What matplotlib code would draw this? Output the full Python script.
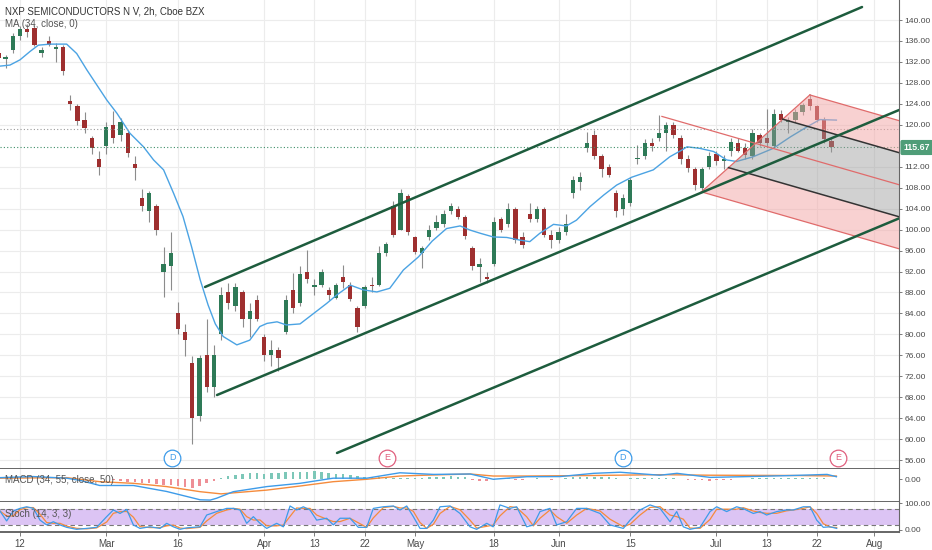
import numpy as np
import pandas as pd
import matplotlib
matplotlib.use('Agg')
import matplotlib.pyplot as plt
from matplotlib.patches import Polygon
import matplotlib.transforms as mtransforms

plt.rcParams['font.family'] = ['Liberation Sans', 'DejaVu Sans']

# trading calendar (Feb 10 2020 = day 0)
holidays = ['2020-02-17', '2020-04-10', '2020-05-25', '2020-07-03']
days = pd.bdate_range('2020-02-07', '2020-08-07')
days = days[~days.isin(pd.to_datetime(holidays))]
day_pos = {d.strftime('%Y-%m-%d'): i - 1 for i, d in enumerate(days)}

tick_dates = ['2020-02-12', '2020-03-02', '2020-03-16', '2020-04-01', '2020-04-13',
              '2020-04-22', '2020-05-01', '2020-05-18', '2020-06-01', '2020-06-15',
              '2020-07-01', '2020-07-13', '2020-07-22', '2020-08-03']
tick_labels = ['12', 'Mar', '16', 'Apr', '13', '22', 'May', '18', 'Jun', '15',
               'Jul', '13', '22', 'Aug']

# daily OHLC (day -1 .. 115)
open_ = [133.8, 132.6, 134.2, 137.0, 138.2, 138.5, 133.8, 136.0, 134.5, 134.8,
         124.5, 123.5, 121.0, 117.5, 113.5, 116.0, 120.0, 118.0, 118.5, 112.5,
         106.0, 103.5, 104.5, 92.0, 93.0, 84.0, 80.5, 74.5, 64.5, 76.0,
         70.0, 80.0, 88.0, 85.5, 88.0, 83.0, 86.5, 79.5, 76.0, 77.0,
         80.5, 88.5, 86.0, 92.0, 89.0, 89.5, 88.5, 87.0, 91.0, 89.5,
         85.0, 85.5, 89.5, 89.5, 95.5, 104.5, 100.0, 106.5, 98.5, 95.5,
         98.5, 100.3, 101.0, 103.5, 104.0, 102.5, 96.5, 92.8, 91.0, 93.5,
         102.0, 101.0, 104.0, 98.5, 103.0, 102.0, 104.0, 99.0, 98.0, 99.5,
         107.0, 109.0, 115.5, 118.0, 114.0, 112.0, 107.0, 104.0, 105.0, 113.5,
         114.0, 116.5, 117.5, 118.5, 120.0, 117.5, 113.5, 111.5, 108.0, 112.0,
         114.5, 113.0, 115.0, 116.5, 115.5, 114.0, 118.0, 117.5, 116.0, 122.0,
         120.5, 121.0, 122.5, 125.0, 123.5, 121.0, 117.0]
high = [134.2, 133.4, 137.6, 138.8, 139.2, 139.0, 134.8, 137.0, 135.6, 135.2,
        125.7, 124.0, 122.5, 117.9, 115.0, 120.6, 122.6, 121.3, 118.8, 114.0,
        107.8, 107.3, 104.8, 96.7, 99.6, 86.2, 82.0, 75.8, 76.0, 83.0,
        78.0, 89.0, 89.8, 89.8, 88.5, 86.0, 87.5, 80.0, 79.0, 77.5,
        87.5, 91.7, 93.0, 96.2, 90.5, 92.5, 89.0, 89.8, 93.2, 90.0,
        85.5, 89.5, 91.0, 96.8, 97.6, 105.5, 107.8, 106.8, 98.8, 96.9,
        100.8, 102.8, 103.7, 105.0, 104.5, 102.8, 96.8, 94.5, 92.0, 102.5,
        102.5, 105.0, 104.3, 99.5, 105.0, 104.5, 104.3, 100.0, 100.5, 103.0,
        110.3, 111.0, 118.7, 119.0, 114.5, 112.5, 107.5, 106.8, 110.0, 116.2,
        117.3, 117.5, 121.8, 120.5, 120.5, 118.0, 114.2, 112.0, 112.0, 114.8,
        115.0, 114.2, 117.4, 117.5, 116.5, 119.2, 118.5, 123.0, 123.0, 122.8,
        121.5, 123.0, 124.2, 125.8, 123.8, 121.5, 117.5]
low = [132.4, 130.8, 133.8, 136.2, 136.8, 135.0, 133.0, 135.0, 132.0, 129.6,
       122.8, 120.0, 118.4, 114.5, 110.4, 114.5, 116.5, 117.0, 113.8, 109.5,
       103.5, 101.5, 99.0, 87.2, 88.5, 80.0, 75.8, 59.0, 63.5, 69.0,
       68.0, 79.0, 84.8, 84.5, 81.5, 79.5, 82.5, 75.0, 74.0, 73.0,
       80.0, 84.0, 85.5, 89.8, 87.5, 89.0, 86.5, 86.8, 88.8, 86.3,
       80.5, 85.0, 88.0, 89.3, 95.0, 98.5, 100.0, 99.0, 95.3, 92.6,
       98.0, 100.0, 100.5, 103.0, 102.0, 98.3, 92.3, 90.0, 89.8, 93.0,
       99.5, 100.5, 97.4, 96.5, 101.5, 101.5, 98.6, 96.5, 97.5, 99.0,
       106.0, 107.5, 114.8, 113.5, 110.0, 110.0, 102.5, 102.8, 104.5, 112.5,
       113.5, 115.0, 117.0, 115.0, 117.5, 112.5, 111.0, 107.5, 107.2, 111.5,
       112.3, 111.5, 114.0, 114.8, 113.5, 113.5, 116.0, 115.8, 115.5, 120.5,
       118.5, 120.5, 121.8, 122.8, 120.5, 116.5, 114.8]
close = [132.8, 133.0, 137.0, 138.2, 137.8, 135.3, 134.3, 135.2, 134.8, 130.2,
         124.0, 120.8, 119.3, 115.5, 112.0, 119.5, 117.5, 120.6, 114.6, 111.8,
         104.5, 107.0, 100.0, 93.5, 95.5, 81.0, 79.0, 64.0, 75.5, 70.0,
         76.0, 87.5, 86.0, 89.0, 83.0, 84.5, 83.0, 76.0, 77.0, 75.5,
         86.5, 85.0, 91.5, 90.5, 89.5, 92.0, 87.5, 89.5, 90.0, 86.8,
         81.5, 89.0, 89.3, 95.5, 97.3, 99.0, 107.0, 99.5, 95.8, 96.5,
         100.0, 101.5, 103.0, 104.5, 102.5, 98.8, 93.0, 93.5, 90.5, 101.5,
         100.0, 104.0, 98.0, 97.0, 102.0, 104.0, 99.0, 98.0, 99.5, 101.0,
         109.5, 110.0, 116.5, 114.0, 111.5, 110.5, 103.5, 106.0, 109.5, 113.5,
         116.5, 116.0, 118.5, 120.0, 118.0, 113.5, 111.8, 108.5, 111.5, 114.0,
         113.0, 113.5, 116.8, 115.0, 114.2, 118.5, 116.5, 116.5, 122.0, 121.0,
         121.0, 122.5, 123.8, 123.5, 121.0, 117.2, 115.67]

# MA (34, close)
ma_day = [-0.79, 0.6, 2.0, 3.4, 4.55, 6.2, 8.5, 9.9, 11.3, 12.7, 14.1, 15.5, 17.3,
          19.2, 20.6, 22.0, 23.4, 24.7, 25.9, 27.1, 28.2, 29.2, 30.3, 32.2, 34.0,
          35.4, 36.4, 37.8, 39.1, 41.0, 42.9, 44.7, 46.1, 48.0, 49.8, 51.7, 53.5,
          55.4, 57.5, 59.4, 61.4, 63.3, 64.7, 66.1, 67.9, 69.8, 71.6, 73.0, 74.4,
          76.3, 78.1, 79.5, 81.4, 83.3, 85.1, 87.2, 90.2, 92.5, 94.2, 94.9, 96.7,
          98.6, 100.4, 101.8, 104.1, 106.9, 109.3, 111.6, 113.4, 115.7]
ma_val = [131.2, 131.4, 132.4, 134.0, 135.2, 135.4, 135.4, 133.6, 130.5, 127.6,
          124.7, 122.2, 118.4, 115.8, 113.3, 111.4, 106.9, 102.5, 96.7, 90.4,
          85.6, 82.0, 79.6, 78.0, 78.9, 81.5, 82.1, 82.4, 81.8, 82.0, 84.0, 85.9,
          87.5, 89.4, 88.5, 88.1, 88.8, 92.3, 94.8, 97.8, 100.2, 100.7, 99.9, 99.3,
          98.6, 98.5, 98.0, 97.7, 99.3, 101.0, 100.7, 101.8, 104.4, 106.6, 108.5,
          110.0, 111.4, 113.9, 115.2, 115.8, 115.5, 114.9, 113.3, 113.0, 113.9,
          115.5, 117.7, 119.6, 121.0, 120.9]

# MACD (34, 55, close, 50)
macd_day = [-0.79, 3.86, 8.5, 10.5, 13.1, 17.8, 22.4, 27.1, 28.5, 29.4, 31.7, 36.4,
            41.0, 45.6, 50.3, 54.9, 59.6, 64.7, 67.9, 72.6, 77.2, 81.9, 85.6, 91.1,
            93.5, 98.1, 102.7, 109.7, 114.4, 115.7]
macd_val = [0.5, 0.9, 0.3, -0.6, -2.4, -2.4, -4.6, -7.7, -7.8, -7.1, -4.7, -2.8,
            -1.6, 0.3, 0.3, 2.3, 1.7, 1.85, -0.1, 0.85, 0.9, 2.1, 2.5, 1.4,
            2.1, 0.6, 0.85, 1.3, 1.7, 0.85]
signal_day = [-0.79, 8.5, 13.1, 17.8, 22.4, 27.1, 30.0, 36.4, 41.0, 45.6, 50.3,
              54.9, 59.6, 64.7, 67.9, 72.6, 81.9, 91.1, 98.1, 109.7, 115.7]
signal_val = [0.3, 0.5, -1.0, -1.6, -2.8, -4.7, -5.5, -4.1, -2.6, -1.0, -0.1,
              1.1, 1.5, 1.85, 1.1, 1.1, 1.3, 1.6, 1.4, 1.3, 1.1]
hist_day = list(range(15, 116))
hist_val = [-0.3, -0.6, -1.0, -1.2, -1.4, -1.6, -1.8, -2.1, -2.4, -2.7,
            -3.0, -3.3, -2.6, -1.6, -0.8, 0.3, 1.0, 1.4, 1.8, 2.2,
            2.2, 2.0, 2.1, 2.3, 2.5, 2.6, 2.6, 2.7, 2.8, 2.6,
            2.3, 2.0, 1.7, 1.5, 1.2, 0.9, 0.7, 0.6, 0.5, 0.5,
            0.4, 0.3, 0.3, 0.4, 0.6, 0.8, 0.9, 1.0, 0.9, 0.7,
            -0.4, -0.8, -0.9, -0.5, 0.2, 0.2, -0.2, -0.3, 0.1, 0.2,
            -0.1, -0.2, 0.1, 0.3, 0.6, 0.8, 0.9, 0.9, 0.8, 0.6,
            0.3, 0.1, 0.2, 0.4, 0.5, 0.5, 0.4, 0.3, 0.2, -0.1,
            -0.2, -0.3, -0.5, -0.6, -0.5, -0.4, -0.2, 0.1, 0.1, 0.2,
            0.2, 0.3, 0.4, 0.4, 0.4, 0.5, 0.5, 0.5, 0.4, 0.2, 0.1]

# Stoch (14, 3, 3) %K
stoch_day = [-0.79, 0.14, 1.07, 2.0, 2.93, 3.86, 4.79, 5.71, 6.64, 7.57, 8.5, 9.89,
             11.29, 12.68, 14.07, 15.0, 15.93, 16.86, 17.79, 18.71, 20.1, 21.5,
             22.43, 23.36, 24.29, 25.21, 27.07, 28.0, 29.39, 30.79, 31.71, 32.64,
             33.57, 34.5, 35.43, 36.36, 37.75, 38.68, 39.61, 40.53, 41.46, 42.39,
             43.32, 44.71, 45.64, 46.57, 47.96, 49.12, 50.28, 51.21, 52.6, 54.0,
             54.93, 55.86, 56.78, 57.71, 58.64, 59.57, 60.5, 61.89, 63.28, 64.67,
             65.6, 67.0, 67.9, 68.85, 70.24, 71.17, 72.57, 73.5, 74.42, 75.81,
             76.74, 78.14, 79.53, 80.92, 82.78, 84.17, 86.03, 86.96, 88.35, 89.74,
             91.14, 92.53, 93.46, 94.38, 95.31, 96.71, 98.1, 99.03, 100.42, 101.81,
             102.74, 104.13, 105.06, 105.99, 107.38, 108.78, 109.71, 111.1, 112.03,
             112.96, 113.88, 114.81, 115.74]
stoch_k = [71, 34, 71, 81, 87, 81, 37, 19, 31, 19, 10, 2.5, 6, 10, 50, 75, 62, 77,
           19, 6, 12, 6, 25, 12, 2.5, 8, 12, 56, 69, 81, 81, 75, 25, 50, 25, 6,
           25, 12, 90, 75, 87, 75, 37, 44, 19, 44, 44, 10, 10, 81, 87, 90, 75, 90,
           50, 6, 6, 37, 87, 90, 62, 12, 2.5, 25, 12, 94, 81, 87, 12, 19, 69, 81,
           19, 31, 81, 81, 62, 19, 6, 37, 75, 94, 81, 31, 69, 12, 2.5, 10, 69, 87,
           69, 87, 80, 62, 69, 56, 69, 75, 75, 87, 87, 37, 10, 12, 6]
stoch_d = pd.Series(stoch_k).rolling(2, min_periods=1).mean().values

# drawings
chan_upper = ([27.77, 119.27], [89.05, 142.48])
chan_mid = ([29.44, 124.42], [68.43, 122.82])
chan_lower = ([46.15, 124.42], [57.37, 102.14])
fork_a = (91.4, 121.6)
fork_b = (96.9, 107.2)
fork_c = (112.0, 125.7)
last_price = 115.67
prev_close = 119.2
events = [(23.17, 'D'), (53.1, 'E'), (85.98, 'D'), (115.9, 'E')]

x_left, x_right = -0.785, 124.42
x = np.arange(-1, len(close) - 1)

W, H = 932, 550
fig = plt.figure(figsize=(W / 100, H / 100), dpi=100)
R = 899 / W
ax = fig.add_axes([0, (H - 469) / H, R, 469 / H])
ax_m = fig.add_axes([0, (H - 502) / H, R, 33 / H])
ax_s = fig.add_axes([0, (H - 532) / H, R, 30 / H])

tick_pos = [day_pos[d] for d in tick_dates]
label_color = '#4a4a4a'
for a in (ax, ax_m, ax_s):
    a.set_xlim(x_left, x_right)
    a.set_xticks(tick_pos)
    a.grid(axis='x', color='#ececec', lw=0.8)
    a.set_axisbelow(True)
    a.yaxis.tick_right()
    a.spines['left'].set_visible(False)
    a.spines['top'].set_visible(False)
    a.spines['right'].set_color('#666666')
    a.spines['bottom'].set_color('#666666')
    a.spines['bottom'].set_linewidth(1.4)
    a.tick_params(axis='y', length=2, width=0.6, colors='#666666', labelcolor=label_color,
                  labelsize=6.1, pad=2)
    a.tick_params(axis='x', length=3, width=0.6, colors='#666666', labelcolor=label_color,
                  labelsize=7, pad=2)
    if a is not ax_s:
        a.tick_params(axis='x', labelbottom=False, length=0)
ax_s.set_xticklabels(tick_labels)

# ---- main price panel
ax.set_ylim(54.31, 143.82)
yt = [v for v in range(56, 141, 4) if v != 116]
ax.set_yticks(yt)
ax.set_yticklabels(['%.2f' % v for v in yt])
ax.grid(axis='y', color='#ececec', lw=0.8)

up = np.array(close) >= np.array(open_)
ax.vlines(x, low, high, color='#8c8c8c', lw=0.8, zorder=2)
body = np.array(close) - np.array(open_)
body = np.where(np.abs(body) < 0.15, 0.15, body)
ax.bar(x, body, bottom=open_, width=0.6,
       color=np.where(up, '#2e7a57', '#9e2f2f'), lw=0, zorder=3)

ax.plot(ma_day, ma_val, color='#4ba3e3', lw=1.0, zorder=4)

ax.axhline(last_price, color='#3f8f69', lw=0.8, ls=(0, (1, 2)), zorder=4)
ax.axhline(prev_close, color='#999999', lw=0.8, ls=(0, (1, 2)), zorder=4)

for cx, cy in (chan_upper, chan_mid, chan_lower):
    ax.plot(cx, cy, color='#1d5c3d', lw=1.8, zorder=6, solid_capstyle='round')

# pitchfork
A, B, C = np.array(fork_a), np.array(fork_b), np.array(fork_c)
M = (B + C) / 2
slope = (M[1] - A[1]) / (M[0] - A[0])


def end_of(p):
    return np.array([x_right, p[1] + slope * (x_right - p[0])])


Q1 = B + 0.25 * (C - B)
Q3 = B + 0.75 * (C - B)
ax.add_patch(Polygon([Q3, C, end_of(C), end_of(Q3)], closed=True,
                     facecolor='#f3a5a5', alpha=0.5, lw=0, zorder=5))
ax.add_patch(Polygon([B, Q1, end_of(Q1), end_of(B)], closed=True,
                     facecolor='#f3a5a5', alpha=0.5, lw=0, zorder=5))
ax.add_patch(Polygon([Q1, Q3, end_of(Q3), end_of(Q1)], closed=True,
                     facecolor='#9a9a9a', alpha=0.45, lw=0, zorder=5))
for p0, p1, c, lw in [(B, C, '#e06b6b', 0.9), (C, end_of(C), '#e06b6b', 0.9),
                      (B, end_of(B), '#e06b6b', 0.9), (A, end_of(A), '#e06b6b', 0.9),
                      (Q1, end_of(Q1), '#333333', 1.1), (Q3, end_of(Q3), '#333333', 1.1)]:
    ax.plot([p0[0], p1[0]], [p0[1], p1[1]], color=c, lw=lw, zorder=5.5)

# last price label
trans = mtransforms.blended_transform_factory(ax.transAxes, ax.transData)
ax.text(1.005, last_price, '%.2f' % last_price, transform=trans, ha='left', va='center',
        fontsize=6.3, color='white', fontweight='bold', zorder=10, clip_on=False,
        bbox=dict(boxstyle='round,pad=0.35,rounding_size=0.2', fc='#4f9d78', ec='none'))

# dividend / earnings markers
trans_e = mtransforms.blended_transform_factory(ax.transData, ax.transAxes)
for ed, lab in events:
    col = '#3d9be9' if lab == 'D' else '#e0607e'
    ax.plot([ed], [0.0235], transform=trans_e, marker='o', ms=12, mfc='white',
            mec=col, mew=0.9, zorder=7, clip_on=False)
    ax.text(ed, 0.0235, lab, transform=trans_e, ha='center', va='center',
            fontsize=6.5, color=col, zorder=8)

ax.text(5 / 899, 1 - 12 / 469, 'NXP SEMICONDUCTORS N V, 2h, Cboe BZX', transform=ax.transAxes,
        fontsize=7, color='#333333', va='center', ha='left', zorder=9)
ax.text(5 / 899, 1 - 24 / 469, 'MA (34, close, 0)', transform=ax.transAxes,
        fontsize=7, color='#555555', va='center', ha='left', zorder=9)

# ---- MACD panel
ax_m.set_ylim(-8.51, 3.7)
ax_m.set_yticks([0])
ax_m.set_yticklabels(['0.00'])
hv = np.array(hist_val)
ax_m.bar(hist_day, hv, width=0.35, color=np.where(hv >= 0, '#7cc7b8', '#ee8f96'),
         lw=0, zorder=2)
ax_m.plot(signal_day, signal_val, color='#f58b3c', lw=1.0, zorder=3)
ax_m.plot(macd_day, macd_val, color='#3d9be9', lw=1.0, zorder=4)
ax_m.text(5 / 899, 0.67, 'MACD (34, 55, close, 50)', transform=ax_m.transAxes,
          fontsize=7, color='#555555', va='center', ha='left', zorder=9)

# ---- Stoch panel
ax_s.set_ylim(-7.5, 104.9)
ax_s.set_yticks([0, 100])
ax_s.set_yticklabels(['0.00', '100.00'])
ax_s.axhspan(20, 80, color='#dcc4f4', lw=0, zorder=1)
ax_s.axhline(80, color='#777777', lw=0.8, ls=(0, (4, 3)), zorder=2)
ax_s.axhline(20, color='#777777', lw=0.8, ls=(0, (4, 3)), zorder=2)
ax_s.plot(stoch_day, stoch_d, color='#f58b3c', lw=0.9, zorder=3)
ax_s.plot(stoch_day, stoch_k, color='#3d9be9', lw=0.9, zorder=4)
ax_s.text(5 / 899, 0.6, 'Stoch (14, 3, 3)', transform=ax_s.transAxes,
          fontsize=7, color='#555555', va='center', ha='left', zorder=9)

fig.savefig('out.png', dpi=100, facecolor='white')
